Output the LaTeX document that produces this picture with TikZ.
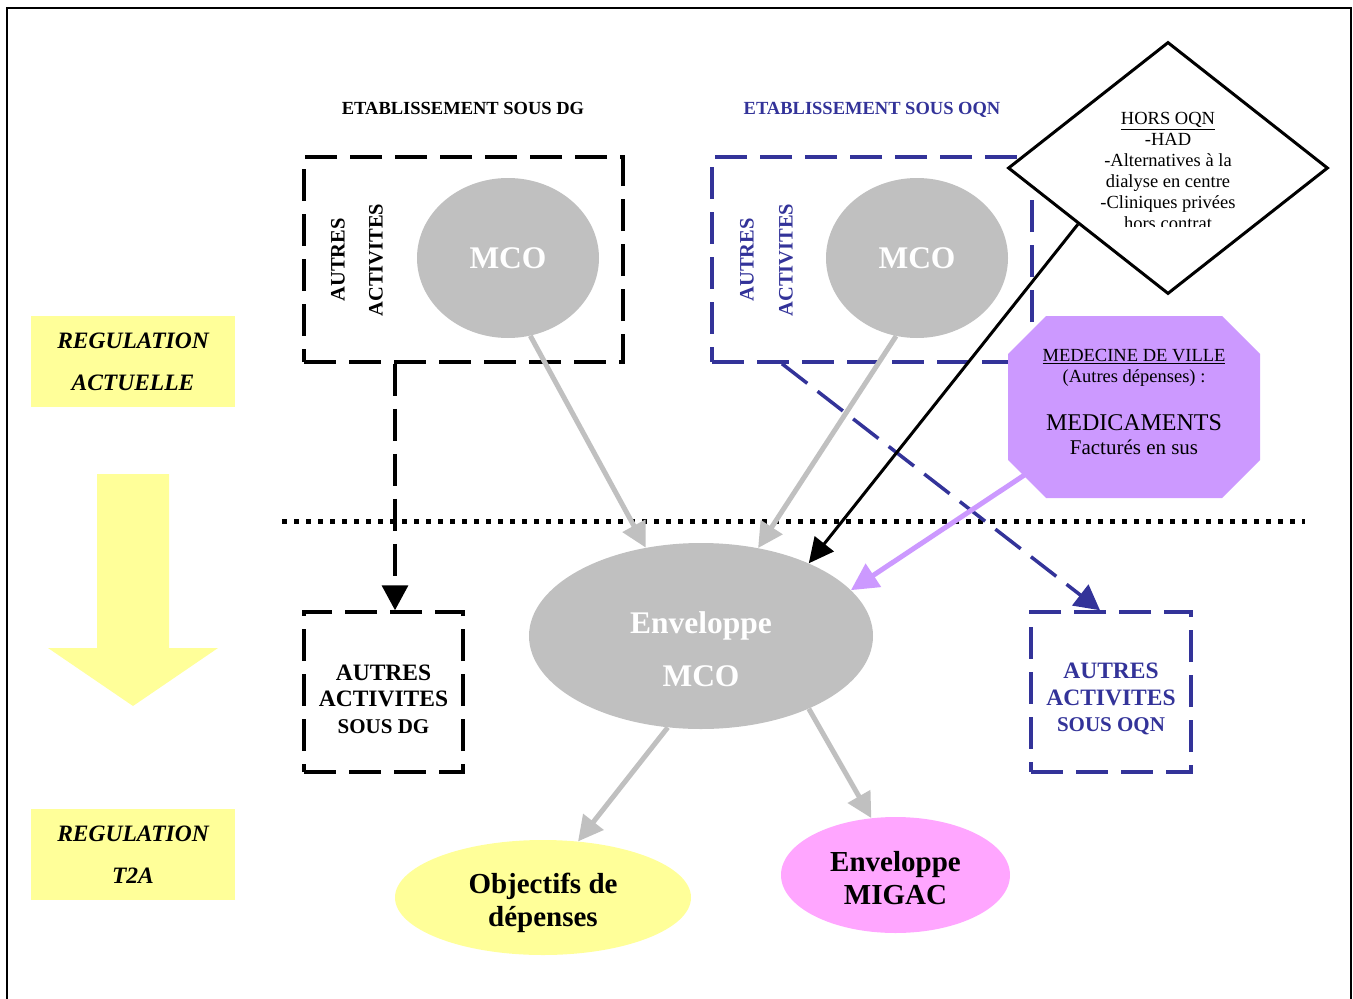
\documentclass[tikz,border=0pt]{standalone}
\usepackage{fontspec}
\setmainfont{Liberation Serif}
\usetikzlibrary{shapes.geometric,arrows.meta}
\definecolor{gris}{HTML}{C0C0C0}
\definecolor{bleu}{HTML}{333399}
\definecolor{jaune}{HTML}{FFFF99}
\definecolor{mauve}{HTML}{CC99FF}
\definecolor{rose}{HTML}{FFA6FF}
\begin{document}
\begin{tikzpicture}[x=1pt,y=-1pt,
    titre/.style={anchor=base,font=\fontsize{18.5}{21}\selectfont\bfseries},
    regul/.style={fill=jaune,minimum width=204,minimum height=91,align=center,
      font=\fontsize{23.5}{42}\selectfont\bfseries\itshape},
    cadre/.style={draw,line width=3.5pt,dash pattern=on 32pt off 13pt},
    vert/.style={rotate=90,font=\fontsize{20.5}{23}\selectfont\bfseries},
    mco/.style={ellipse,fill=gris,minimum width=182,minimum height=160,inner sep=0,
      text=white,font=\fontsize{31.5}{35}\selectfont\bfseries},
    autres/.style={align=center,font=\fontsize{23.5}{26.5}\selectfont\bfseries},
    grosse/.style={align=center,font=\fontsize{29}{32.5}\selectfont\bfseries},
    fleche/.style={line width=5pt,gris,-{Triangle[length=25pt,width=25pt]}}]
\useasboundingbox (0,0) rectangle (1353,999);
\draw[line width=2pt] (7,999) -- (7,8) -- (1351,8) -- (1351,999);

% regulation, a gauche
\node[regul] (actuelle) at (133,361.5) {REGULATION\\ACTUELLE};
\node[regul] (t2a) at (133,854.5) {REGULATION\\T2A};
\fill[jaune] (97,474) -- (169,474) -- (169,648) -- (218,648) -- (133,706)
    -- (48,648) -- (97,648) -- cycle;

% etablissements
\node[titre] (tdg) at (463,114) {ETABLISSEMENT SOUS DG};
\node[titre,text=bleu] (toqn) at (872,114) {ETABLISSEMENT SOUS OQN};

\node[cadre,minimum width=319,minimum height=205] (dg) at (463.5,259.5) {};
\node[vert] (autdg) at (338,260) {AUTRES};
\node[vert] (actdg) at (376,260) {ACTIVITES};
\node[mco] (mcodg) at (508,258) {MCO};

\node[cadre,bleu,minimum width=320,minimum height=205] (oqn) at (872,259.5) {};
\node[vert,text=bleu] (autoqn) at (747,260) {AUTRES};
\node[vert,text=bleu] (actoqn) at (786,260) {ACTIVITES};
\node[mco] (mcooqn) at (917,258) {MCO};

% hors oqn
\node[diamond,draw,fill=white,line width=3pt,minimum width=320,minimum height=252,
    inner sep=0] (hors) at (1168,168) {};
\begin{scope}
  \clip (1060,100) rectangle (1280,226);
  \node[align=center,font=\fontsize{18.5}{21}\selectfont] (horstxt) at (1168,171)
    {\underline{HORS OQN}\\-HAD\\-Alternatives à la\\dialyse en centre\\-Cliniques privées\\hors contrat};
\end{scope}

% medecine de ville
\fill[mauve] (1046,316) -- (1222,316) -- (1260,354) -- (1260,460) -- (1222,498)
    -- (1046,498) -- (1008,460) -- (1008,354) -- cycle;
\coordinate (medso) at (1032,470);
\node[anchor=base,font=\fontsize{18.5}{21}\selectfont] (medville) at (1134,361.5) {\underline{MEDECINE DE VILLE}};
\node[anchor=base,font=\fontsize{18.5}{21}\selectfont] (autdep) at (1134,382.5) {(Autres dépenses) :};
\node[anchor=base,font=\fontsize{24}{26}\selectfont] (medic) at (1134,430) {MEDICAMENTS};
\node[anchor=base,font=\fontsize{21}{23}\selectfont] (factu) at (1134,454) {Facturés en sus};

% separation
\draw[line width=5pt,dash pattern=on 5pt off 7pt] (282,521) -- (1305,521);

% enveloppes
\node[ellipse,fill=gris,minimum width=344,minimum height=186,inner sep=0] (env) at (701,636) {};
\node[align=center,text=white,font=\fontsize{31.5}{53}\selectfont\bfseries] (envtxt) at (701,649) {Enveloppe\\MCO};
\node[ellipse,fill=jaune,minimum width=296,minimum height=115,inner sep=0] (obj) at (543,897.5) {};
\node[grosse] (objtxt) at (543,903) {Objectifs de\\dépenses};
\node[ellipse,fill=rose,minimum width=229,minimum height=116,inner sep=0] (migac) at (895.5,875) {};
\node[grosse] (migactxt) at (895.5,878) {Enveloppe\\MIGAC};

\node[cadre,minimum width=159,minimum height=160] (adg) at (383.5,692) {};
\node[autres] (adgtxt) at (383.5,699)
    {AUTRES\\ACTIVITES\\{\fontsize{21}{26.5}\selectfont SOUS DG}};
\node[cadre,bleu,minimum width=160,minimum height=160] (aoqn) at (1111,692) {};
\node[autres,text=bleu] (aoqntxt) at (1111,699)
    {AUTRES\\ACTIVITES\\{\fontsize{21}{26.5}\selectfont SOUS OQN}};

% fleches
\draw[fleche] (mcodg.-74) -- (env.122);
\draw[fleche] (mcooqn.-105) -- (env.57);
\draw[fleche] (env.-110) -- (obj.58);
\draw[fleche] (env.-34) -- (migac.113);
\draw[line width=3.5pt,dash pattern=on 32pt off 13pt,-{Triangle[length=25pt,width=26pt]}]
    ([xshift=-68.5pt]dg.south) -- ([xshift=11.5pt]adg.north);
\draw[bleu,line width=3.5pt,dash pattern=on 32pt off 13pt,-{Triangle[length=25pt,width=26pt]}]
    ([xshift=-90pt]oqn.south) -- ([xshift=-11pt]aoqn.north);
\draw[line width=3pt,-{Triangle[length=25pt,width=24pt]}] (hors.-148) -- (env.34);
\draw[mauve,line width=5pt,-{Triangle[length=27pt,width=27pt]}] (medso) -- (env.17.6);
\end{tikzpicture}
\end{document}
